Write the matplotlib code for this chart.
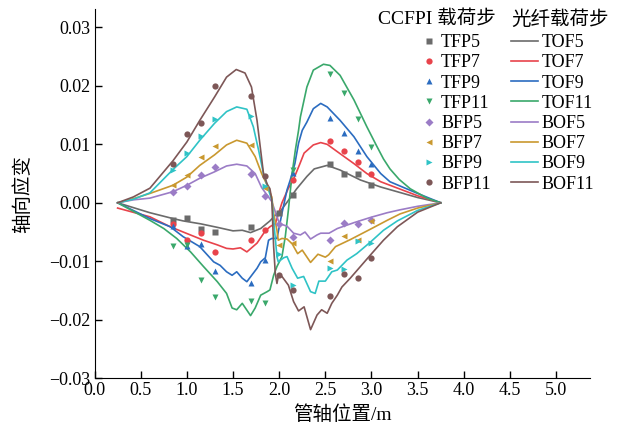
import numpy as np
import matplotlib
matplotlib.use('Agg')
import matplotlib.pyplot as plt

plt.rcParams['font.family'] = ['Liberation Serif', 'Noto Sans CJK SC']
plt.rcParams['font.size'] = 13
plt.rcParams['axes.unicode_minus'] = True

# ---- fibre (光纤) curves, top fibre ----
tof5_x = [0.25, 0.6, 0.85, 0.96, 1.15, 1.33, 1.5, 1.6, 1.69, 1.8, 1.9, 1.96, 2.01, 2.09, 2.14, 2.19,
          2.3, 2.38, 2.45, 2.52, 2.66, 2.88, 3.1, 3.3, 3.5, 3.75]
tof5_y = [0, -0.0017, -0.0027, -0.0031, -0.0036, -0.0042, -0.0048, -0.0047, -0.0051, -0.0044, -0.0031,
          -0.0021, -0.0015, 0.0002, 0.0013, 0.0024, 0.0045, 0.0058, 0.0061, 0.0064, 0.0056, 0.0039,
          0.0027, 0.0018, 0.0009, 0]

tof7_x = [0.25, 0.6, 0.82, 0.96, 1.18, 1.33, 1.43, 1.5, 1.58, 1.65, 1.76, 1.85, 1.9, 1.96, 2.03, 2.1,
          2.16, 2.22, 2.27, 2.37, 2.45, 2.52, 2.66, 2.81, 2.95, 3.1, 3.2, 3.5, 3.75]
tof7_y = [-0.0009, -0.0024, -0.0041, -0.005, -0.0064, -0.0072, -0.0078, -0.0079, -0.0077, -0.0084,
          -0.0069, -0.0048, -0.0041, -0.0035, 0, 0.0025, 0.0042, 0.0065, 0.0085, 0.0099, 0.0103, 0.0100,
          0.0084, 0.0067, 0.005, 0.0036, 0.003, 0.0012, 0]

tof9_x = [0.25, 0.6, 0.82, 0.96, 1.14, 1.29, 1.36, 1.43, 1.49, 1.54, 1.6, 1.65, 1.76, 1.8, 1.85, 1.885,
          1.92, 1.976, 2.03, 2.085, 2.12, 2.17, 2.21, 2.25, 2.3, 2.37, 2.45, 2.52, 2.66, 2.81, 2.95, 3.1,
          3.2, 3.5, 3.75]
tof9_y = [0, -0.0027, -0.0041, -0.0058, -0.0075, -0.0101, -0.0107, -0.0118, -0.0124, -0.0118, -0.0129,
          -0.0135, -0.0112, -0.0101, -0.0094, -0.0064, -0.0061, -0.0061, -0.0018, 0.0022, 0.0039, 0.0067,
          0.0102, 0.0124, 0.0138, 0.0161, 0.0170, 0.0164, 0.0141, 0.0113, 0.0079, 0.005, 0.0036, 0.0016, 0]

tof11_x = [0.25, 0.6, 0.75, 0.89, 1.04, 1.18, 1.33, 1.43, 1.49, 1.54, 1.6, 1.69, 1.74, 1.8, 1.87, 1.9,
           1.94, 1.976, 2.03, 2.066, 2.1, 2.14, 2.175, 2.21, 2.23, 2.3, 2.37, 2.48, 2.55, 2.66, 2.81, 2.95,
           3.06, 3.13, 3.2, 3.3, 3.42, 3.6, 3.75]
tof11_y = [0, -0.003, -0.0044, -0.0061, -0.0084, -0.0109, -0.0135, -0.0155, -0.018, -0.0183, -0.0172,
           -0.0193, -0.018, -0.0158, -0.0152, -0.0149, -0.0124, -0.0109, -0.0092, -0.0058, -0.0012, 0.005,
           0.009, 0.0124, 0.0147, 0.0198, 0.0227, 0.0237, 0.0235, 0.0218, 0.0176, 0.013, 0.0096, 0.0075,
           0.0058, 0.004, 0.0024, 0.0008, 0]

# ---- fibre curves, bottom fibre ----
bof5_x = [0.25, 0.42, 0.6, 0.85, 1.0, 1.14, 1.3, 1.43, 1.54, 1.65, 1.74, 1.81, 1.87, 1.92, 1.99, 2.01,
          2.085, 2.156, 2.23, 2.28, 2.34, 2.41, 2.45, 2.54, 2.63, 2.81, 2.99, 3.17, 3.31, 3.5, 3.75]
bof5_y = [0, 0.0005, 0.0008, 0.0019, 0.003, 0.0042, 0.0053, 0.0063, 0.0066, 0.0063, 0.005, 0.0026,
          0.0013, 0.0002, -0.003, -0.0036, -0.004, -0.0052, -0.0055, -0.005, -0.0062, -0.0055, -0.0052,
          -0.0052, -0.0044, -0.0034, -0.0025, -0.0017, -0.0012, -0.0006, 0]

bof7_x = [0.25, 0.42, 0.6, 0.85, 1.0, 1.14, 1.3, 1.43, 1.54, 1.65, 1.74, 1.81, 1.87, 1.92, 1.94, 1.976,
          1.99, 2.03, 2.085, 2.14, 2.2, 2.25, 2.34, 2.42, 2.5, 2.536, 2.61, 2.77, 2.99, 3.17, 3.31, 3.5, 3.75]
bof7_y = [0, 0.0007, 0.0016, 0.003, 0.0044, 0.0064, 0.0082, 0.0099, 0.0107, 0.0102, 0.0079, 0.005,
          0.003, 0.001, -0.0018, -0.0047, -0.0064, -0.0061, -0.0062, -0.007, -0.0087, -0.0081, -0.0102,
          -0.0088, -0.0093, -0.0089, -0.0075, -0.0063, -0.0045, -0.003, -0.0019, -0.0009, 0]

bof9_x = [0.25, 0.42, 0.6, 0.85, 1.0, 1.14, 1.3, 1.43, 1.54, 1.65, 1.72, 1.777, 1.83, 1.885, 1.92, 1.94,
          1.976, 1.99, 2.05, 2.085, 2.14, 2.2, 2.265, 2.34, 2.39, 2.43, 2.5, 2.57, 2.63, 2.735, 2.84, 2.99,
          3.13, 3.28, 3.5, 3.75]
bof9_y = [0, 0.0006, 0.0017, 0.0057, 0.0079, 0.0107, 0.0136, 0.0156, 0.0164, 0.016, 0.013, 0.009, 0.005,
          0.0022, 0.0005, -0.003, -0.0092, -0.0101, -0.0094, -0.0092, -0.0112, -0.0129, -0.0126, -0.0152,
          -0.0155, -0.0134, -0.0134, -0.0118, -0.0115, -0.0098, -0.0087, -0.0067, -0.0047, -0.0031,
          -0.0013, 0]

bof11_x = [0.25, 0.42, 0.6, 0.85, 1.0, 1.14, 1.3, 1.43, 1.535, 1.63, 1.7, 1.76, 1.83, 1.87, 1.9, 1.92,
           1.94, 1.958, 1.976, 1.99, 2.03, 2.1, 2.156, 2.21, 2.27, 2.34, 2.41, 2.46, 2.52, 2.57, 2.63, 2.68,
           2.77, 2.88, 2.99, 3.13, 3.28, 3.5, 3.75]
bof11_y = [0, 0.001, 0.0025, 0.0072, 0.0104, 0.0141, 0.0181, 0.0215, 0.0228, 0.0222, 0.0198, 0.0141,
           0.005, 0.0032, 0.0024, 0.0005, -0.0075, -0.0121, -0.0138, -0.0126, -0.0126, -0.0141, -0.0169,
           -0.0185, -0.0178, -0.0217, -0.0192, -0.0183, -0.0189, -0.0172, -0.0158, -0.0144, -0.0129,
           -0.0109, -0.0089, -0.0064, -0.0041, -0.0016, 0]

# ---- CCFPI measured points ----
fp_x = [0.85, 1.0, 1.15, 1.3, 1.7, 1.85, 2.0, 2.15, 2.55, 2.7, 2.85, 3.0]
nan = np.nan
tfp5 = [-0.0030, -0.0026, -0.0044, -0.0050, -0.0042, nan, -0.0018, 0.0013, 0.0067, 0.0049, 0.0049, 0.0030]
tfp7 = [-0.0036, -0.0064, -0.0052, -0.0084, -0.0064, -0.0046, nan, 0.0039, 0.0106, 0.0089, 0.0069, 0.0049]
tfp9 = [-0.0040, -0.0074, -0.0071, -0.0117, -0.0138, -0.0098, nan, 0.0051, 0.0145, 0.0119, 0.0088, 0.0066]
tfp11 = [-0.0074, -0.0072, -0.0132, -0.0161, -0.0168, -0.0171, nan, 0.0056, 0.0220, 0.0187, 0.0143, 0.0096]
bfp5 = [0.0019, 0.0029, 0.0047, 0.0062, 0.0050, 0.0012, -0.0036, -0.0058, -0.0063, -0.0035, -0.0037, -0.0030]
bfp7 = [0.0030, 0.0047, 0.0079, 0.0097, 0.0099, 0.0025, -0.0072, -0.0069, -0.0099, -0.0057, -0.0064, -0.0031]
bfp9 = [0.0056, 0.0085, 0.0114, 0.0144, 0.0148, 0.0029, -0.0087, -0.0141, -0.0112, -0.0113, -0.0065, -0.0068]
bfp11 = [0.0066, 0.0117, 0.0137, 0.0200, 0.0182, 0.0046, -0.0124, -0.0150, -0.0159, -0.0121, -0.0128, -0.0094]

colors = ['#6b6b6b', '#e8434b', '#2b6cc0', '#3aa86b', '#9b7cc6', '#c9982f', '#2fc3c6', '#7d5757']

fig = plt.figure(figsize=(6.22, 4.23), dpi=100)
ax = fig.add_axes([0.152, 0.106, 0.797, 0.872])

line_x = [tof5_x, tof7_x, tof9_x, tof11_x, bof5_x, bof7_x, bof9_x, bof11_x]
line_y = [tof5_y, tof7_y, tof9_y, tof11_y, bof5_y, bof7_y, bof9_y, bof11_y]
line_names = ['TOF5', 'TOF7', 'TOF9', 'TOF11', 'BOF5', 'BOF7', 'BOF9', 'BOF11']
line_handles = []
for xs, ys, c, n in zip(line_x, line_y, colors, line_names):
    h, = ax.plot(xs, ys, color=c, lw=1.2, label=n)
    line_handles.append(h)

pts = [tfp5, tfp7, tfp9, tfp11, bfp5, bfp7, bfp9, bfp11]
pt_names = ['TFP5', 'TFP7', 'TFP9', 'TFP11', 'BFP5', 'BFP7', 'BFP9', 'BFP11']
markers = ['s', 'o', '^', 'v', 'D', '<', '>', 'o']
sizes = [4, 4.5, 4.5, 4.5, 4, 4.5, 4.5, 4.5]
pt_handles = []
for ys, c, m, s, n in zip(pts, colors, markers, sizes, pt_names):
    h, = ax.plot(fp_x, ys, ls='none', marker=m, ms=s, color=c, mec='none', label=n, zorder=3)
    pt_handles.append(h)

ax.set_xlim(0, 5.37)
ax.set_ylim(-0.03, 0.0331)
ax.set_xticks(np.arange(0, 5.01, 0.5))
ax.set_xticklabels(['%.1f' % v for v in np.arange(0, 5.01, 0.5)])
ax.set_yticks(np.arange(-0.03, 0.031, 0.01))
ax.set_yticklabels([('%.2f' % v).replace('-', '\u2212') for v in np.arange(-0.03, 0.031, 0.01)])
ax.spines['top'].set_visible(False)
ax.spines['right'].set_visible(False)
ax.tick_params(direction='in', length=5, width=1, pad=3, labelsize=13)
ax.set_xlabel('管轴位置/m', labelpad=4, fontsize=14)
ax.set_ylabel('轴向应变', labelpad=12, fontsize=14)

fig.text(378 / 622, 1 - 20 / 423, 'CCFPI 载荷步', va='center', ha='left', fontsize=14)
fig.text(511 / 622, 1 - 20 / 423, '光纤载荷步', va='center', ha='left', fontsize=14)

leg1 = ax.legend(pt_handles, pt_names, loc='upper left', bbox_to_anchor=(424 / 622, 1 - 34 / 423),
                 bbox_transform=fig.transFigure, frameon=False, borderpad=0, borderaxespad=0,
                 handlelength=0.6, handletextpad=0.35, labelspacing=0.18, fontsize=13, numpoints=1)
ax.add_artist(leg1)
ax.legend(line_handles, line_names, loc='upper left', bbox_to_anchor=(511 / 622, 1 - 34 / 423),
          bbox_transform=fig.transFigure, frameon=False, borderpad=0, borderaxespad=0,
          handlelength=1.5, handletextpad=0.2, labelspacing=0.18, fontsize=13)

fig.savefig('out.png', dpi=100)
